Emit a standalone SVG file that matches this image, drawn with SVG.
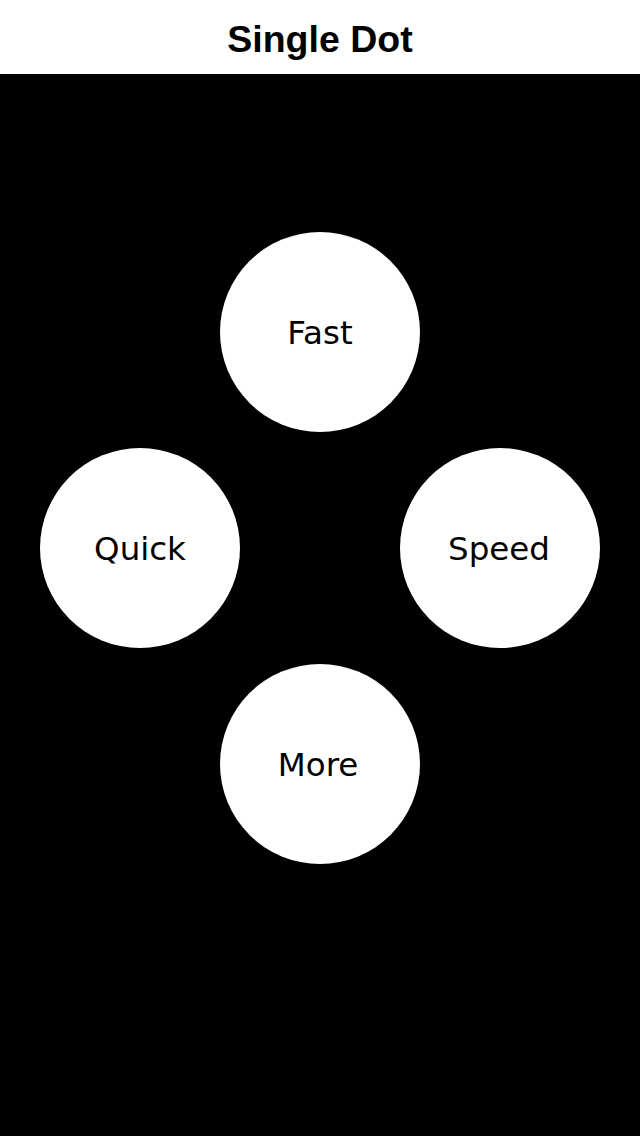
<svg xmlns="http://www.w3.org/2000/svg" width="640" height="1136" viewBox="0 0 640 1136">
<style>
.dot{fill:#ffffff}
.lbl{font-family:"DejaVu Sans","Liberation Sans",sans-serif;font-size:32.5px;fill:#000;text-anchor:middle}
.title{font-family:"Liberation Sans",Arial,sans-serif;font-weight:bold;font-size:37.5px;fill:#000;text-anchor:middle}
</style>
<rect x="0" y="0" width="640" height="1136" fill="#000"/>
<g id="header">
<rect x="0" y="0" width="640" height="74" fill="#fff"/>
<text class="title" x="320" y="52">Single Dot</text>
</g>
<g id="connectors"></g>
<g id="node-fast">
<circle class="dot" cx="320" cy="332" r="100"/>
<text class="lbl" x="320" y="344">Fast</text>
</g>
<g id="node-quick">
<circle class="dot" cx="140" cy="548" r="100"/>
<text class="lbl" x="140" y="560">Quick</text>
</g>
<g id="node-speed">
<circle class="dot" cx="500" cy="548" r="100"/>
<text class="lbl" x="499" y="560">Speed</text>
</g>
<g id="node-more">
<circle class="dot" cx="320" cy="764" r="100"/>
<text class="lbl" x="318" y="776">More</text>
</g>
</svg>
